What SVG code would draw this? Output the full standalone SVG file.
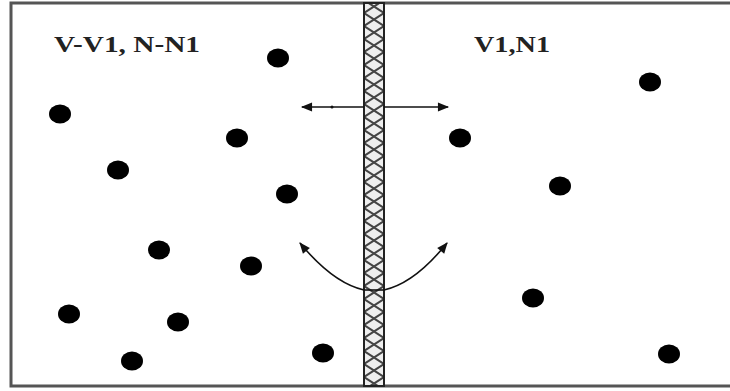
<svg xmlns="http://www.w3.org/2000/svg" width="730" height="391" viewBox="0 0 730 391">
<defs>
<style>
.lbl{font-family:"Liberation Serif","Times New Roman",serif;font-weight:bold;font-size:24px;fill:#222}
.dot{fill:#000}
.ln{stroke:#111;stroke-width:1.6;fill:none}
</style>
<pattern id="hatch" x="364" y="0" width="20" height="13" patternUnits="userSpaceOnUse">
<rect width="20" height="13" fill="#eee"/>
<path d="M0,0 L20,13 M20,0 L0,13" stroke="#444" stroke-width="2"/>
</pattern>
<marker id="ah" viewBox="0 0 10 10" refX="9" refY="5" markerWidth="8" markerHeight="7" orient="auto-start-reverse">
<path d="M0,1 L10,5 L0,9 Z" fill="#111"/>
</marker>
</defs>
<rect width="730" height="391" fill="#fff"/>
<g id="box">
<path d="M734,3 L11,3 L11,386 L734,386" fill="none" stroke="#555" stroke-width="3"/>
</g>
<g id="membrane">
<rect x="364" y="3" width="20" height="383" fill="url(#hatch)" stroke="#222" stroke-width="2"/>
</g>
<g id="labels">
<text class="lbl" x="54" y="52" textLength="146" lengthAdjust="spacingAndGlyphs">V-V1, N-N1</text>
<text class="lbl" x="474" y="52" textLength="76" lengthAdjust="spacingAndGlyphs">V1,N1</text>
</g>
<g id="particles">
<ellipse class="dot" cx="278" cy="58" rx="11" ry="9.5"/>
<ellipse class="dot" cx="60" cy="114" rx="11" ry="9.5"/>
<ellipse class="dot" cx="237" cy="138" rx="11" ry="9.5"/>
<ellipse class="dot" cx="118" cy="170" rx="11" ry="9.5"/>
<ellipse class="dot" cx="287" cy="194" rx="11" ry="9.5"/>
<ellipse class="dot" cx="159" cy="250" rx="11" ry="9.5"/>
<ellipse class="dot" cx="251" cy="266" rx="11" ry="9.5"/>
<ellipse class="dot" cx="69" cy="314" rx="11" ry="9.5"/>
<ellipse class="dot" cx="178" cy="322" rx="11" ry="9.5"/>
<ellipse class="dot" cx="132" cy="361" rx="11" ry="9.5"/>
<ellipse class="dot" cx="323" cy="353" rx="11" ry="9.5"/>
<ellipse class="dot" cx="650" cy="82" rx="11" ry="9.5"/>
<ellipse class="dot" cx="460" cy="138" rx="11" ry="9.5"/>
<ellipse class="dot" cx="560" cy="186" rx="11" ry="9.5"/>
<ellipse class="dot" cx="533" cy="298" rx="11" ry="9.5"/>
<ellipse class="dot" cx="669" cy="354" rx="11" ry="9.5"/>
</g>
<g id="connectors">
<path class="ln" d="M302,107 L364,107" marker-start="url(#ah)"/>
<path class="ln" d="M384,107 L448,107" marker-end="url(#ah)"/>
<circle cx="332" cy="107" r="1.5" fill="#111"/>
<path class="ln" d="M364,290 Q333,283 300,243" marker-end="url(#ah)"/>
<path class="ln" d="M384,290 Q415,283 447,243" marker-end="url(#ah)"/>
<path class="ln" d="M364,290 L384,290"/>
</g>
</svg>
